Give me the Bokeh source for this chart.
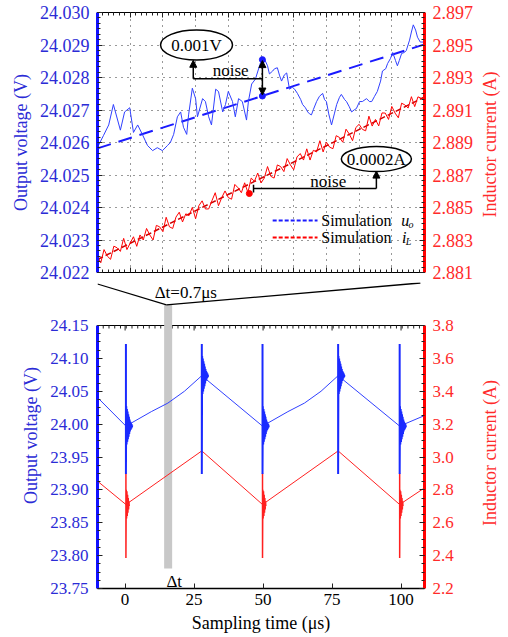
import math
from bokeh.plotting import figure
from bokeh.models import (Range1d, LinearAxis, FixedTicker, NumeralTickFormatter,
                          Arrow, NormalHead, Grid, CustomLabelingPolicy)
from bokeh.layouts import column, row
from bokeh.core.properties import value
from bokeh.embed import file_html
from bokeh.resources import INLINE

FONT = "Liberation Serif"
AX_FONT = "Times"
BLUE_TXT = "#2b2bd6"
RED_TXT = "#ff2a2a"
BLUE = "#3040ff"
RED = "#ff0000"

# ================= zoomed window (top panel), time in ns =================
win_t = [0, 700]
u_range = [24.022, 24.030]
i_range = [2.881, 2.897]

meas_u_t = [2, 13, 24, 34, 49, 58, 69, 77, 86, 96,
            107, 118, 128, 139, 150, 156, 163, 171, 178, 184,
            191, 195, 203, 210, 214, 225, 231, 238, 244, 253,
            259, 268, 274, 280, 289, 295, 302, 310, 319, 323,
            330, 338, 349, 353, 357, 364, 368, 375, 379, 385,
            390, 394, 400, 405, 411, 417, 422, 428, 435, 439,
            445, 450, 454, 458, 462, 469, 475, 482, 486, 490,
            495, 501, 507, 512, 518, 522, 529, 533, 539, 544,
            550, 554, 561, 567, 576, 582, 587, 593, 599, 606,
            610, 617, 621, 627, 632, 638, 642, 646, 651, 657,
            661, 668, 672, 676, 681, 685, 691, 698]
meas_u = [24.02591, 24.02622, 24.02654, 24.02717, 24.02638, 24.02694, 24.02707, 24.02631, 24.02654, 24.02625,
          24.02591, 24.02575, 24.02584, 24.02575, 24.02591, 24.02600, 24.02625, 24.02679, 24.02694, 24.02647,
          24.02625, 24.02685, 24.02767, 24.02735, 24.02679, 24.02735, 24.02726, 24.02679, 24.02654, 24.02764,
          24.02757, 24.02694, 24.02717, 24.02757, 24.02726, 24.02679, 24.02735, 24.02726, 24.02669, 24.02726,
          24.02780, 24.02795, 24.02846, 24.02855, 24.02858, 24.02836, 24.02811, 24.02820, 24.02827, 24.02830,
          24.02805, 24.02789, 24.02808, 24.02814, 24.02764, 24.02770, 24.02764, 24.02751, 24.02732, 24.02717,
          24.02707, 24.02694, 24.02688, 24.02685, 24.02701, 24.02726, 24.02742, 24.02751, 24.02732, 24.02726,
          24.02688, 24.02654, 24.02688, 24.02717, 24.02739, 24.02748, 24.02732, 24.02726, 24.02710, 24.02694,
          24.02701, 24.02704, 24.02726, 24.02726, 24.02735, 24.02726, 24.02726, 24.02742, 24.02757, 24.02789,
          24.02820, 24.02827, 24.02843, 24.02858, 24.02877, 24.02852, 24.02836, 24.02852, 24.02874, 24.02877,
          24.02883, 24.02915, 24.02940, 24.02962, 24.02946, 24.02924, 24.02909, 24.02909]

meas_i_t = list(range(0, 700, 7))
meas_i = [2.88200, 2.88160, 2.88241, 2.88201, 2.88181, 2.88262, 2.88252, 2.88230, 2.88310, 2.88241,
          2.88281, 2.88320, 2.88261, 2.88331, 2.88300, 2.88371, 2.88331, 2.88300, 2.88390, 2.88381,
          2.88351, 2.88440, 2.88381, 2.88371, 2.88441, 2.88471, 2.88411, 2.88461, 2.88450, 2.88501,
          2.88431, 2.88511, 2.88541, 2.88491, 2.88491, 2.88542, 2.88591, 2.88511, 2.88561, 2.88602,
          2.88561, 2.88551, 2.88642, 2.88621, 2.88591, 2.88652, 2.88592, 2.88681, 2.88661, 2.88712,
          2.88651, 2.88681, 2.88752, 2.88692, 2.88681, 2.88762, 2.88752, 2.88721, 2.88801, 2.88762,
          2.88732, 2.88811, 2.88832, 2.88792, 2.88861, 2.88792, 2.88852, 2.88842, 2.88911, 2.88842,
          2.88902, 2.88871, 2.88862, 2.88942, 2.88931, 2.88902, 2.88982, 2.88952, 2.88911, 2.88992,
          2.89012, 2.88981, 2.88972, 2.89062, 2.89001, 2.89042, 2.89002, 2.89082, 2.89081, 2.89042,
          2.89122, 2.89081, 2.89052, 2.89142, 2.89131, 2.89112, 2.89182, 2.89121, 2.89181, 2.89172]

sim_u_t = [0, 700]
sim_u = [24.02582, 24.02902]
sim_i_t = [0, 700]
sim_i = [2.8818, 2.8918]

# noise annotations
u_noise_t = 353
u_noise_hi = 24.02855
u_noise_lo = 24.02743
i_noise_t = 325
i_noise_pt = 2.88586

# ================= full waveform (bottom panel), time in us =================
full_t = [-10, 108.5]
full_u_range = [23.75, 24.15]
full_i_range = [2.2, 3.8]
x_ticks = [0, 25, 50, 75, 100]

u_t = [-10, 0.3, 9.5, 15.5, 21.5, 27.8, 49.8, 59.0, 65.0, 71.0, 77.2, 99.5, 108.5]
u_v = [24.0405, 23.997, 24.019, 24.032, 24.050, 24.0737, 23.997, 24.019, 24.032, 24.050, 24.0737, 23.997, 24.013]
i_t = [-10, 0.3, 27.8, 49.8, 77.2, 99.5, 108.5]
i_v = [2.853, 2.711, 3.037, 2.711, 3.037, 2.711, 2.812]

u_switch_t = [0.3, 27.8, 49.8, 77.2, 99.5]
u_spike = [24.122, 23.924]
u_ring = [0.030, -0.028, 0.026, -0.024, 0.022, -0.020, 0.018, -0.016, 0.014,
          -0.012, 0.010, -0.008, 0.007, -0.006, 0.005, -0.004, 0.003, -0.002, 0.001]
i_switch_t = [0.3, 49.8, 99.5]
i_spike = [2.900, 2.385]
i_ring = [0.09, -0.085, 0.08, -0.07, 0.06, -0.05, 0.04, -0.03, 0.02, -0.01]
ring_dt = 0.12

window_center = 15.6   # where the zoomed window sits on the full time axis
window_band = 2.9      # drawn width of the marker band
band_bottom = 23.7805

NO_LABELS = CustomLabelingPolicy(code="for (const i of indices) indices.unset(i); return indices")

# ---- layout (pixels)
FRAME_W = 327
TOP_H = 260
BOT_H = 263
GAP = 43          # room between the panels, part of the bottom figure's frame
LEFT_B = 97
RIGHT_B = 57
TITLE_W = 27
TOP_FIG_H = 12 + TOP_H + 10
BOT_FIG_H = BOT_H + GAP + 50
u_px = (full_u_range[1] - full_u_range[0]) / BOT_H
i_px = (full_i_range[1] - full_i_range[0]) / BOT_H


def gap_u(px):   # height (px above the bottom panel's top edge) -> voltage units
    return full_u_range[1] + px * u_px


def i2u(a):
    return u_range[0] + (a - i_range[0]) * (u_range[1] - u_range[0]) / (i_range[1] - i_range[0])


def style_axis(ax, line_color, line_width, label_color, tick_size="17px",
               hide_labels=False, minor=True):
    ax.axis_line_color = line_color
    ax.axis_line_width = line_width
    ax.major_tick_in = 5
    ax.major_tick_out = 0
    ax.minor_tick_in = 3
    ax.minor_tick_out = 0
    ax.major_tick_line_color = "#222222"
    ax.minor_tick_line_color = "#222222" if minor else None
    ax.major_label_text_font = AX_FONT
    ax.major_label_text_font_size = tick_size
    ax.major_label_text_color = label_color
    ax.axis_label_text_font = AX_FONT
    ax.axis_label_text_font_style = "normal"
    ax.axis_label_text_font_size = "18px"
    ax.axis_label_text_color = label_color
    if hide_labels:
        ax.major_label_policy = NO_LABELS
        ax.major_label_text_font_size = "0px"
        ax.major_label_standoff = 0


def side_title(height, y_center, text):
    f = figure(frame_width=TITLE_W, frame_height=height, min_border=0,
               x_range=Range1d(0, TITLE_W), y_range=Range1d(0, height),
               x_axis_type=None, y_axis_type=None,
               output_backend="svg", toolbar_location=None)
    f.outline_line_color = None
    f.background_fill_color = "white"
    f.border_fill_color = "white"
    f.text(x=[8], y=[y_center], text=[text], angle=math.pi / 2, text_align="center",
           text_baseline="middle", text_font=value(FONT), text_font_size="18px",
           text_color=RED_TXT)
    return f


# ----------------------------------------------------------------- top panel
p1 = figure(frame_width=FRAME_W, frame_height=TOP_H, min_border_left=LEFT_B,
            min_border_right=RIGHT_B, min_border_top=12, min_border_bottom=10,
            x_range=Range1d(*win_t), y_range=Range1d(*u_range),
            x_axis_type=None, y_axis_type=None,
            output_backend="svg", toolbar_location=None)
p1.extra_y_ranges = {"i": Range1d(*i_range)}
p1.outline_line_color = "black"
p1.background_fill_color = "white"
p1.border_fill_color = "white"

xg = [win_t[1] / 10 * k for k in range(11)]
xm = [win_t[1] / 60 * k for k in range(61)]
u_ticks = [round(u_range[0] + 0.001 * k, 3) for k in range(9)]
u_minor = [u_range[0] + 0.001 * k / 6 for k in range(49)]
i_ticks = [round(i_range[0] + 0.002 * k, 3) for k in range(9)]
i_minor = [i_range[0] + 0.002 * k / 6 for k in range(49)]

axl = LinearAxis(ticker=FixedTicker(ticks=u_ticks, minor_ticks=u_minor),
                 formatter=NumeralTickFormatter(format="0.000"),
                 axis_label="Output voltage (V)")
style_axis(axl, "#1010ff", 3, BLUE_TXT, tick_size="18px")
axl.major_label_standoff = 8
axl.axis_label_standoff = 6
p1.add_layout(axl, "left")

axr = LinearAxis(y_range_name="i", ticker=FixedTicker(ticks=i_ticks, minor_ticks=i_minor),
                 formatter=NumeralTickFormatter(format="0.000"))
style_axis(axr, "#ff0000", 3, RED_TXT, tick_size="18px")
axr.major_label_standoff = 8
p1.add_layout(axr, "right")

for loc in ("below", "above"):
    ax = LinearAxis(ticker=FixedTicker(ticks=xg, minor_ticks=xm))
    style_axis(ax, "black", 1, "black", hide_labels=True)
    p1.add_layout(ax, loc)

p1.add_layout(Grid(dimension=0, ticker=FixedTicker(ticks=xg), grid_line_color="#333333",
                   grid_line_dash="1 5", grid_line_width=1))
p1.add_layout(Grid(dimension=1, ticker=FixedTicker(ticks=u_ticks), grid_line_color="#333333",
                   grid_line_dash="1 5", grid_line_width=1))

p1.line(sim_i_t, sim_i, y_range_name="i", color="#cc0000", line_width=1.5, line_dash="6 3")
p1.line(meas_i_t, meas_i, y_range_name="i", color=RED, line_width=1)
p1.line(sim_u_t, sim_u, color="#1a1aff", line_width=2, line_dash="14 8")
p1.line(meas_u_t, meas_u, color=BLUE, line_width=1)

# blue noise annotation
p1.scatter([u_noise_t, u_noise_t], [u_noise_hi, u_noise_lo], size=6, color="#1a1aff")
p1.add_layout(Arrow(start=NormalHead(size=7, fill_color="black", line_color="black"),
                    end=NormalHead(size=7, fill_color="black", line_color="black"),
                    x_start=u_noise_t, y_start=u_noise_lo + 0.00003,
                    x_end=u_noise_t, y_end=u_noise_hi - 0.00003, line_width=1.5))
p1.line([205, u_noise_t], [24.02796, 24.02796], color="black", line_width=1.5)
p1.add_layout(Arrow(end=NormalHead(size=7, fill_color="black", line_color="black"),
                    x_start=205, y_start=24.02796, x_end=205, y_end=24.02853, line_width=1.5))
p1.ellipse(x=[212], y=[24.0290], width=154, height=0.000923,
           fill_color="white", line_color="black", line_width=1.5)
p1.text(x=[212], y=[24.0290], text=["0.001V"], text_align="center", text_baseline="middle",
        text_font=value(FONT), text_font_size="17px", text_color="black")
p1.text(x=[285], y=[24.02823], text=["noise"], text_align="center", text_baseline="middle",
        text_font=value(FONT), text_font_size="17px", text_color="black")

# red noise annotation
p1.scatter([i_noise_t], [i_noise_pt], y_range_name="i", size=6, color=RED)
p1.line([334, 334], [i2u(2.88592), i2u(2.88640)], color="black", line_width=1.5)
p1.line([334, 597], [i2u(2.88617), i2u(2.88617)], color="black", line_width=1.5)
p1.add_layout(Arrow(end=NormalHead(size=7, fill_color="black", line_color="black"),
                    x_start=597, y_start=i2u(2.88617), x_end=597, y_end=i2u(2.88724),
                    line_width=1.5))
p1.ellipse(x=[597], y=[2.88798], width=150, height=0.00154, y_range_name="i",
           fill_color="white", line_color="black", line_width=1.5)
p1.text(x=[597], y=[2.88798], text=["0.0002A"], y_range_name="i", text_align="center",
        text_baseline="middle", text_font=value(FONT), text_font_size="17px", text_color="black")
p1.text(x=[494], y=[2.88660], text=["noise"], y_range_name="i", text_align="center",
        text_baseline="middle", text_font=value(FONT), text_font_size="17px", text_color="black")

# legend (drawn by hand for the italic subscripts)
leg_y = [24.0236, 24.02308]
p1.line([375, 471], [leg_y[0], leg_y[0]], color="#1a1aff", line_width=2, line_dash="4 2")
p1.line([375, 471], [leg_y[1], leg_y[1]], color=RED, line_width=2, line_dash="4 2")
p1.text(x=[479, 479], y=leg_y, text=["Simulation", "Simulation"], text_align="left",
        text_baseline="middle", text_font=value(FONT), text_font_size="16px", text_color="black")
p1.text(x=[650, 652], y=leg_y, text=["u", "i"], text_align="left", text_baseline="middle",
        text_font=value(FONT), text_font_style="italic", text_font_size="16px", text_color="black")
p1.text(x=[666, 660], y=[leg_y[0] - 0.00013, leg_y[1] - 0.00013], text=["o", "L"],
        text_align="left", text_baseline="middle", text_font=value(FONT),
        text_font_style="italic", text_font_size="10px", text_color="black")

t1 = side_title(TOP_FIG_H, TOP_FIG_H - 132, "Inductor current (A)")

# -------------------------------------------------------------- bottom panel
# (its frame also holds the connector region above the panel's top edge)
p2 = figure(frame_width=FRAME_W, frame_height=BOT_H + GAP, min_border_left=LEFT_B,
            min_border_right=RIGHT_B, min_border_top=0, min_border_bottom=50,
            x_range=Range1d(*full_t), y_range=Range1d(full_u_range[0], gap_u(GAP)),
            x_axis_type=None, y_axis_type=None,
            output_backend="svg", toolbar_location=None)
p2.extra_y_ranges = {"i": Range1d(full_i_range[0], full_i_range[1] + GAP * i_px)}
p2.outline_line_color = None
p2.background_fill_color = "white"
p2.border_fill_color = "white"

fu_ticks = [round(23.75 + 0.05 * k, 2) for k in range(9)]
fu_minor = [23.75 + 0.0125 * k for k in range(33)]
fi_ticks = [round(2.2 + 0.2 * k, 1) for k in range(9)]
fi_minor = [2.2 + 0.05 * k for k in range(33)]

bl = LinearAxis(ticker=FixedTicker(ticks=fu_ticks, minor_ticks=fu_minor), bounds=tuple(full_u_range),
                formatter=NumeralTickFormatter(format="0.00"), axis_label="Output voltage (V)")
style_axis(bl, "#1010ff", 3, BLUE_TXT)
bl.major_label_standoff = 9
bl.axis_label_standoff = 6
p2.add_layout(bl, "left")

br = LinearAxis(y_range_name="i", ticker=FixedTicker(ticks=fi_ticks, minor_ticks=fi_minor),
                bounds=tuple(full_i_range), formatter=NumeralTickFormatter(format="0.0"))
style_axis(br, "#ff0000", 3, RED_TXT)
br.major_label_standoff = 8
p2.add_layout(br, "right")

bb = LinearAxis(ticker=FixedTicker(ticks=x_ticks, minor_ticks=[]),
                formatter=NumeralTickFormatter(format="0"), axis_label="Sampling time (μs)")
style_axis(bb, "black", 1.5, "black", minor=False)
bb.major_label_standoff = 5
bb.axis_label_standoff = 5
p2.add_layout(bb, "below")

# top edge of the bottom panel with inward ticks
top_major = x_ticks
top_minor = [v for v in [-10 + 25 / 12 * k for k in range(57)] if v < full_t[1]]
p2.line(full_t, [full_u_range[1]] * 2, color="black", line_width=1.2)
p2.segment(x0=top_major, y0=[full_u_range[1]] * len(top_major), x1=top_major,
           y1=[full_u_range[1] - 5 * u_px] * len(top_major), color="#222222", line_width=1)
p2.segment(x0=top_minor, y0=[full_u_range[1]] * len(top_minor), x1=top_minor,
           y1=[full_u_range[1] - 3 * u_px] * len(top_minor), color="#222222", line_width=1)

# marker band for the zoomed window
apex = gap_u(20.7)
p2.quad(left=[window_center - window_band / 2], right=[window_center + window_band / 2],
        bottom=[band_bottom], top=[apex], color="#c8c8c8", line_color=None)

p2.line(i_t, i_v, y_range_name="i", color="#ff2020", line_width=1)
i_xs, i_ys = [], []
for s in i_switch_t:
    b = i_v[i_t.index(s)]
    i_xs.append([s, s, s] + [s + ring_dt * (k + 1) for k in range(len(i_ring))])
    i_ys.append([b, i_spike[0], i_spike[1]] + [b + r for r in i_ring])
p2.multi_line(i_xs, i_ys, y_range_name="i", color="#ff2020", line_width=1.5)

p2.line(u_t, u_v, color=BLUE, line_width=1)
u_xs, u_ys = [], []
for s in u_switch_t:
    b = u_v[u_t.index(s)]
    u_xs.append([s, s, s] + [s + ring_dt * (k + 1) for k in range(len(u_ring))])
    u_ys.append([b, u_spike[0], u_spike[1]] + [b + r for r in u_ring])
p2.multi_line(u_xs, u_ys, color="#1a2aff", line_width=2)

p2.text(x=[17.8], y=[23.761], text=["Δt"], text_align="center", text_baseline="middle",
        text_font=value(FONT), text_font_size="17px", text_color="black")

# connector from the zoomed panel down to the band
p2.line([full_t[0], window_center - 0.6], [gap_u(41.5), apex], color="black", line_width=1.3)
p2.line([window_center - 0.6, 107.0], [apex, gap_u(42.5)], color="black", line_width=1.3)
p2.text(x=[22.0], y=[gap_u(33.5)], text=["Δt=%.1fμs" % (win_t[1] / 1000)], text_align="center",
        text_baseline="middle", text_font=value(FONT), text_font_size="17px",
        text_color="black")

t2 = side_title(BOT_FIG_H, BOT_FIG_H - (452.5 - TOP_FIG_H), "Inductor current (A)")

layout = column(row(p1, t1, spacing=0), row(p2, t2, spacing=0), spacing=0)
open("out.html", "w").write(file_html(layout, INLINE))
